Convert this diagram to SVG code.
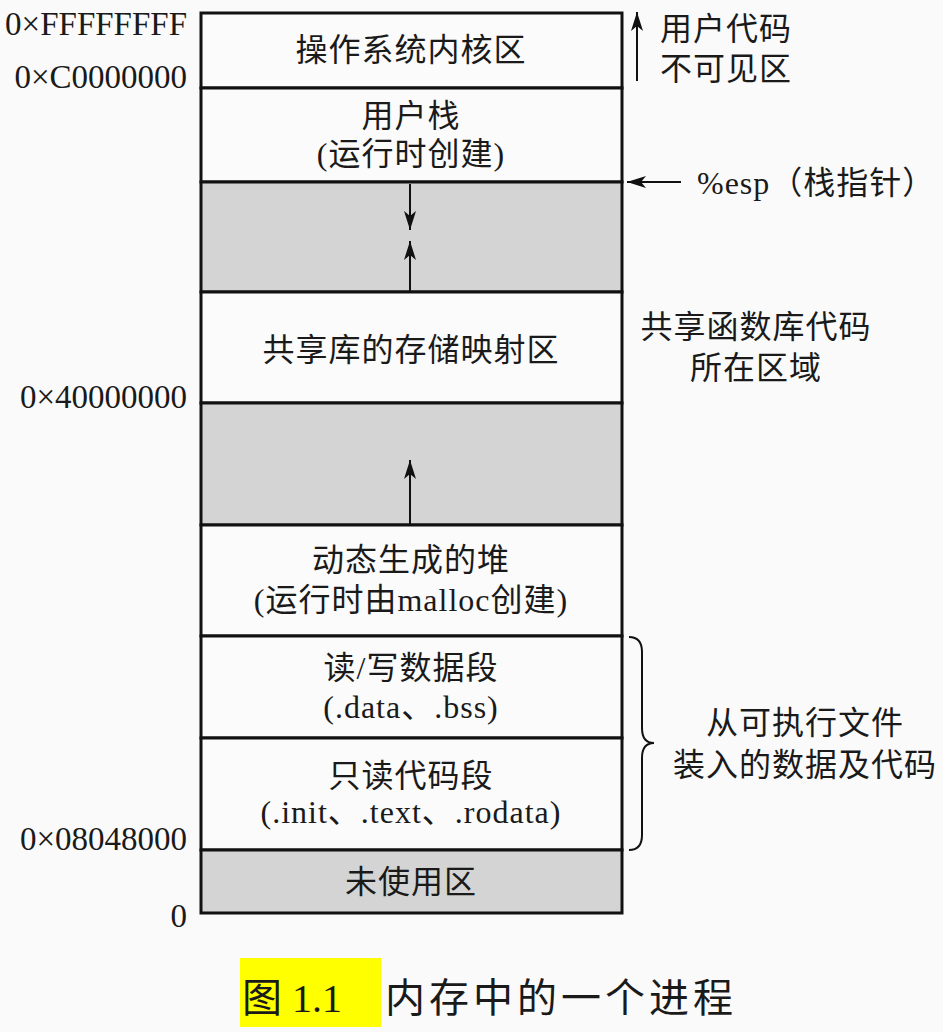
<svg xmlns="http://www.w3.org/2000/svg" width="943" height="1032" viewBox="0 0 943 1032">
  <style>
    .cjk { font-family: "Liberation Serif", "Noto Sans CJK SC", serif; font-size: 32px; fill: #1a1a1a; letter-spacing: 1px; }
    .mid { text-anchor: middle; }
    .addr { font-family: "Liberation Serif", serif; font-size: 33px; fill: #1a1a1a; text-anchor: end; }
    .seg { stroke: #111; stroke-width: 3; }
    .white { fill: #fbfbfb; }
    .gray { fill: #d4d4d4; }
    .arr { stroke: #111; stroke-width: 2; fill: none; }
  </style>
  <defs>
    <marker id="ah" markerUnits="userSpaceOnUse" markerWidth="20" markerHeight="14" refX="19" refY="7" orient="auto">
      <path d="M0,1 L19,7 L0,13 L5,7 z" fill="#111"/>
    </marker>
  </defs>
  <rect x="0" y="0" width="943" height="1032" fill="#fafafa"/>

  <!-- segments -->
  <g id="kernel">
    <rect class="white seg" x="201" y="13" width="421" height="75"/>
    <text class="cjk mid" x="411" y="61">操作系统内核区</text>
  </g>
  <g id="user-stack">
    <rect class="white seg" x="201" y="88" width="421" height="94"/>
    <text class="cjk mid" x="411" y="127">用户栈</text>
    <text class="cjk mid" x="411" y="165">(运行时创建)</text>
  </g>
  <g id="gap1">
    <rect class="gray seg" x="201" y="182" width="421" height="110"/>
  </g>
  <g id="shared-lib">
    <rect class="white seg" x="201" y="292" width="421" height="111"/>
    <text class="cjk mid" x="411" y="361">共享库的存储映射区</text>
  </g>
  <g id="gap2">
    <rect class="gray seg" x="201" y="403" width="421" height="122"/>
  </g>
  <g id="heap">
    <rect class="white seg" x="201" y="525" width="421" height="111"/>
    <text class="cjk mid" x="411" y="571">动态生成的堆</text>
    <text class="cjk mid" x="411" y="611">(运行时由malloc创建)</text>
  </g>
  <g id="rw-data">
    <rect class="white seg" x="201" y="636" width="421" height="102"/>
    <text class="cjk mid" x="411" y="679">读/写数据段</text>
    <text class="cjk mid" x="411" y="718">(.data、.bss)</text>
  </g>
  <g id="ro-code">
    <rect class="white seg" x="201" y="738" width="421" height="112"/>
    <text class="cjk mid" x="411" y="787">只读代码段</text>
    <text class="cjk mid" x="411" y="823">(.init、.text、.rodata)</text>
  </g>
  <g id="unused">
    <rect class="gray seg" x="201" y="850" width="421" height="63"/>
    <text class="cjk mid" x="411" y="893">未使用区</text>
  </g>

  <!-- addresses -->
  <g id="addresses">
    <text class="addr" x="187" y="35">0×FFFFFFFF</text>
    <text class="addr" x="187" y="88">0×C0000000</text>
    <text class="addr" x="187" y="408">0×40000000</text>
    <text class="addr" x="187" y="850">0×08048000</text>
    <text class="addr" x="187" y="927">0</text>
  </g>

  <!-- side labels -->
  <g id="label-kernel">
    <text class="cjk" x="660" y="40">用户代码</text>
    <text class="cjk" x="660" y="80">不可见区</text>
  </g>
  <g id="label-esp">
    <text class="cjk" x="697" y="194">%esp（栈指针）</text>
  </g>
  <g id="label-shared">
    <text class="cjk mid" x="756" y="338">共享函数库代码</text>
    <text class="cjk mid" x="756" y="379">所在区域</text>
  </g>
  <g id="label-exec">
    <text class="cjk mid" x="805" y="734">从可执行文件</text>
    <text class="cjk mid" x="805" y="776">装入的数据及代码</text>
  </g>

  <!-- connectors -->
  <g id="connectors">
    <line class="arr" x1="410" y1="184" x2="410" y2="230" marker-end="url(#ah)"/>
    <line class="arr" x1="410" y1="291" x2="410" y2="241" marker-end="url(#ah)"/>
    <line class="arr" x1="410" y1="524" x2="410" y2="460" marker-end="url(#ah)"/>
    <line class="arr" x1="637" y1="81" x2="637" y2="12" marker-end="url(#ah)"/>
    <line class="arr" x1="681" y1="182" x2="627" y2="182" marker-end="url(#ah)"/>
    <path class="arr" d="M629,637 Q642,637 642,652 L642,728 Q642,743 654,743 Q642,743 642,758 L642,835 Q642,850 629,850"/>
  </g>

  <!-- caption -->
  <g id="caption">
    <rect x="240" y="958" width="141" height="69" fill="#ffff00"/>
    <text x="242" y="1012" style="font-family:'Liberation Serif','Noto Sans CJK SC',serif;font-size:40px;fill:#1a1a1a">图 1.1</text>
    <text x="385" y="1012" style="font-family:'Liberation Serif','Noto Sans CJK SC',serif;font-size:40px;fill:#1a1a1a;letter-spacing:4px">内存中的一个进程</text>
  </g>
</svg>
